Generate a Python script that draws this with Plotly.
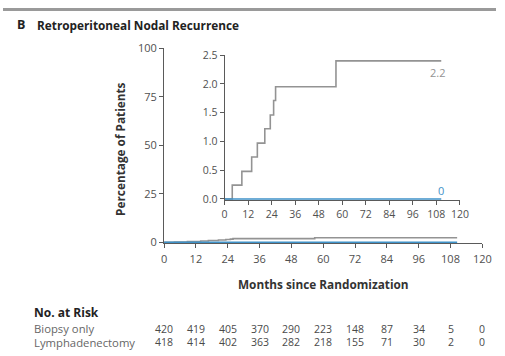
import plotly.graph_objects as go

# ---- data ----
biopsy_months = [0, 3.9, 8.8, 13.8, 16.7, 20.5, 23.3, 25.0, 26.0, 56.8, 110.5]
biopsy_pct = [0, 0.24, 0.48, 0.73, 0.97, 1.22, 1.46, 1.71, 1.95, 2.40, 2.40]
lymph_months = [0, 110.5]
lymph_pct = [0, 0]

risk_months = [0, 12, 24, 36, 48, 60, 72, 84, 96, 108, 120]
risk_biopsy = [420, 419, 405, 370, 290, 223, 148, 87, 34, 5, 0]
risk_lymph = [418, 414, 402, 363, 282, 218, 155, 71, 30, 2, 0]

main_yticks = [0, 25, 50, 75, 100]
inset_yticks = [0.0, 0.5, 1.0, 1.5, 2.0, 2.5]
xticks = [0, 12, 24, 36, 48, 60, 72, 84, 96, 108, 120]

W, H = 505, 356
GRAY = "#939393"
BLUE = "#3f92c8"
AXC = "#5a5a5a"
TXT = "#505050"
FONT = "Open Sans"

def px_x(p):
    return p / W

def px_y(p):
    return 1 - p / H

fig = go.Figure()

# main plot traces
fig.add_trace(go.Scatter(x=biopsy_months, y=biopsy_pct, mode="lines", line_shape="hv",
                         line=dict(color=GRAY, width=1.6), xaxis="x", yaxis="y", showlegend=False))
fig.add_trace(go.Scatter(x=lymph_months, y=lymph_pct, mode="lines",
                         line=dict(color=BLUE, width=1.6), xaxis="x", yaxis="y", showlegend=False))
# inset traces
fig.add_trace(go.Scatter(x=biopsy_months, y=biopsy_pct, mode="lines", line_shape="hv",
                         line=dict(color=GRAY, width=1.6), xaxis="x2", yaxis="y2", showlegend=False))
fig.add_trace(go.Scatter(x=lymph_months, y=lymph_pct, mode="lines",
                         line=dict(color=BLUE, width=1.6), xaxis="x2", yaxis="y2", showlegend=False))

def axis_style(size):
    return dict(showgrid=False, zeroline=False, showline=True, linecolor=AXC, linewidth=1,
                ticks="outside", tickcolor=AXC, ticklen=4, tickwidth=1,
                tickfont=dict(family=FONT, size=size, color=TXT))

fig.update_layout(
    width=W, height=H, margin=dict(l=0, r=0, t=0, b=0),
    paper_bgcolor="white", plot_bgcolor="white",
    xaxis=dict(domain=[px_x(165), px_x(491)], range=[0, 120], tickvals=xticks,
               ticklabelstandoff=1, **axis_style(11)),
    yaxis=dict(domain=[px_y(245), px_y(42)], range=[-0.5, 100], tickvals=main_yticks,
               anchor="x", **axis_style(11)),
    xaxis2=dict(domain=[px_x(227), px_x(468)], range=[0, 120], tickvals=xticks,
                anchor="y2", **axis_style(10.5)),
    yaxis2=dict(domain=[px_y(200), px_y(49)], range=[-0.02, 2.5], tickvals=inset_yticks,
                tickformat=".1f", anchor="x2", **axis_style(10.5)),
)

ann = []
# title
ann.append(dict(text="<b>B</b>", x=px_x(12), y=px_y(17.5), xref="paper", yref="paper",
                xanchor="left", yanchor="middle", showarrow=False,
                font=dict(family=FONT, size=12.5, color="#222")))
ann.append(dict(text="<b>Retroperitoneal Nodal Recurrence</b>", x=px_x(33), y=px_y(17.5),
                xref="paper", yref="paper", xanchor="left", yanchor="middle", showarrow=False,
                font=dict(family=FONT, size=11.8, color="#222")))
# axis titles
ann.append(dict(text="<b>Percentage of Patients</b>", x=px_x(120), y=px_y(146.5), xref="paper",
                yref="paper", xanchor="center", yanchor="middle", textangle=-90, showarrow=False,
                font=dict(family=FONT, size=11.8, color="#333")))
ann.append(dict(text="<b>Months since Randomization</b>", x=px_x(328), y=px_y(287), xref="paper",
                yref="paper", xanchor="center", yanchor="middle", showarrow=False,
                font=dict(family=FONT, size=11.8, color="#333")))
# end labels
ann.append(dict(text="2.2", x=108.4, y=2.2, xref="x2", yref="y2", xanchor="center", yanchor="middle",
                showarrow=False, font=dict(family=FONT, size=11, color=GRAY)))
ann.append(dict(text="0", x=110.4, y=0.14, xref="x2", yref="y2", xanchor="center", yanchor="middle",
                showarrow=False, font=dict(family=FONT, size=11, color=BLUE)))
# risk table
ann.append(dict(text="<b>No. at Risk</b>", x=px_x(30), y=px_y(316.5), xref="paper", yref="paper",
                xanchor="left", yanchor="middle", showarrow=False,
                font=dict(family=FONT, size=12, color="#222")))
ann.append(dict(text="Biopsy only", x=px_x(30), y=px_y(334), xref="paper", yref="paper",
                xanchor="left", yanchor="middle", showarrow=False,
                font=dict(family=FONT, size=11.3, color="#666")))
ann.append(dict(text="Lymphadenectomy", x=px_x(30), y=px_y(348), xref="paper", yref="paper",
                xanchor="left", yanchor="middle", showarrow=False,
                font=dict(family=FONT, size=11.3, color="#666")))
for m, b, l in zip(risk_months, risk_biopsy, risk_lymph):
    ann.append(dict(text=str(b), x=m, y=px_y(334), xref="x", yref="paper", xanchor="center",
                    yanchor="middle", showarrow=False, font=dict(family=FONT, size=10.5, color="#4a4a4a")))
    ann.append(dict(text=str(l), x=m, y=px_y(348), xref="x", yref="paper", xanchor="center",
                    yanchor="middle", showarrow=False, font=dict(family=FONT, size=10.5, color="#4a4a4a")))
fig.update_layout(annotations=ann)

# top gray bar
fig.add_shape(type="rect", xref="paper", yref="paper", x0=0, x1=1, y0=px_y(3), y1=1,
              fillcolor="#9a9a9a", line=dict(width=0), layer="below")

fig.write_html("out.html")
